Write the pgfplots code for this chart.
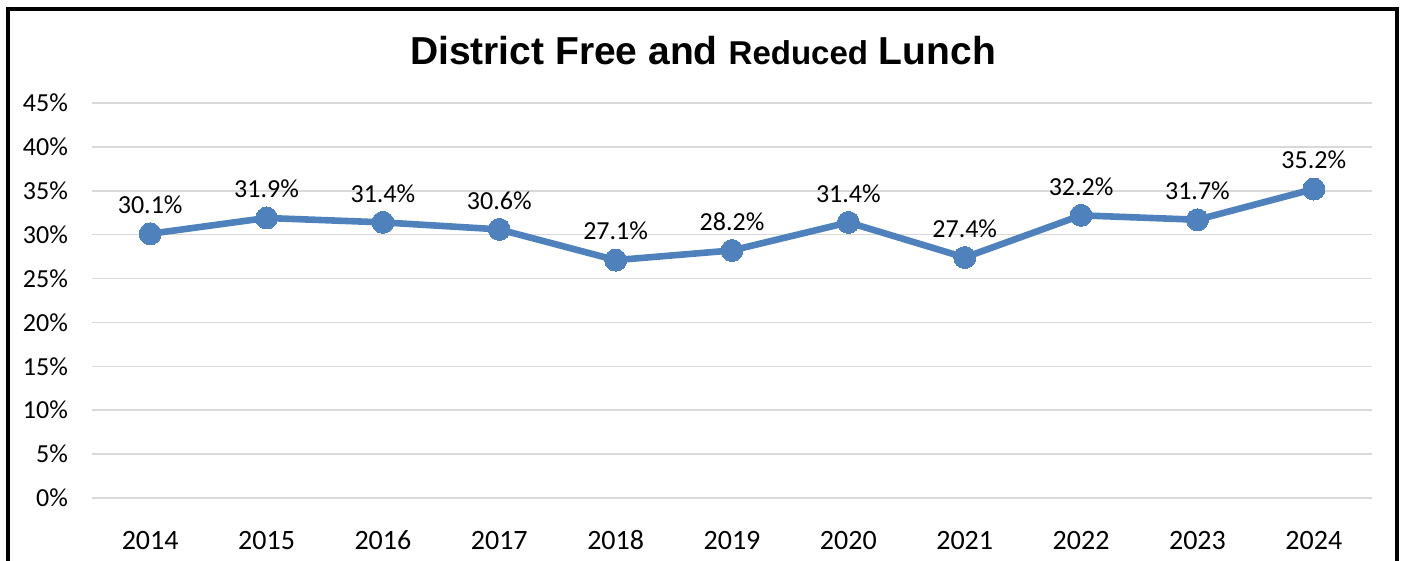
\documentclass[border=0pt]{standalone}
\usepackage{pgfplots}
\pgfplotsset{compat=1.18}
\usepackage{fontspec}
\setmainfont{Carlito}
\newfontfamily\titlefont{Liberation Sans}
\definecolor{lineblue}{RGB}{79,129,189}
\definecolor{gridgray}{RGB}{217,217,217}

\begin{document}
\begin{tikzpicture}
\useasboundingbox (0,0) rectangle (704.5pt,280.5pt);
\draw[line width=2pt] (4pt,-2pt) -- (4pt,275.75pt) -- (698.5pt,275.75pt) -- (698.5pt,-2pt);
\node[font=\titlefont\bfseries\fontsize{19.5}{22}\selectfont] at (351.5pt,255pt)
  {District Free and {\fontsize{16.5}{19}\selectfont Reduced} Lunch};
\begin{axis}[
    at={(46pt,31.5pt)}, anchor=south west,
    scale only axis,
    width=640pt, height=197.5pt,
    xmin=-0.5, xmax=10.5,
    ymin=0, ymax=45,
    xtick={0,...,10},
    xticklabels={2014,2015,2016,2017,2018,2019,2020,2021,2022,2023,2024},
    ytick={0,5,...,45},
    yticklabels={0\%,5\%,10\%,15\%,20\%,25\%,30\%,35\%,40\%,45\%},
    ymajorgrids=true,
    grid style={gridgray, line width=0.75pt},
    axis line style={draw=none},
    major tick style={draw=none},
    yticklabel style={font=\fontsize{13}{15}\selectfont, xshift=-8.5pt},
    xticklabel style={font=\fontsize{14}{16}\selectfont, text height=10pt, text depth=0pt, yshift=-12pt},
    /pgf/number format/assume math mode=true,
    clip=false,
]
\addplot[lineblue, line width=3.3pt, mark=*, mark size=5.5pt,
    mark options={fill=lineblue, draw=lineblue, line width=0pt},
    nodes near coords={\pgfmathprintnumber[fixed,fixed zerofill,precision=1]{\pgfplotspointmeta}\%},
    nodes near coords style={font=\fontsize{13}{15}\selectfont, text=black, anchor=south, inner sep=0pt, yshift=10pt},
    point meta=explicit]
coordinates {
(0,30.1) [30.1]
(1,31.9) [31.9]
(2,31.4) [31.4]
(3,30.6) [30.6]
(4,27.1) [27.1]
(5,28.2) [28.2]
(6,31.4) [31.4]
(7,27.4) [27.4]
(8,32.2) [32.2]
(9,31.7) [31.7]
(10,35.2) [35.2]
};
\end{axis}
\end{tikzpicture}
\end{document}
